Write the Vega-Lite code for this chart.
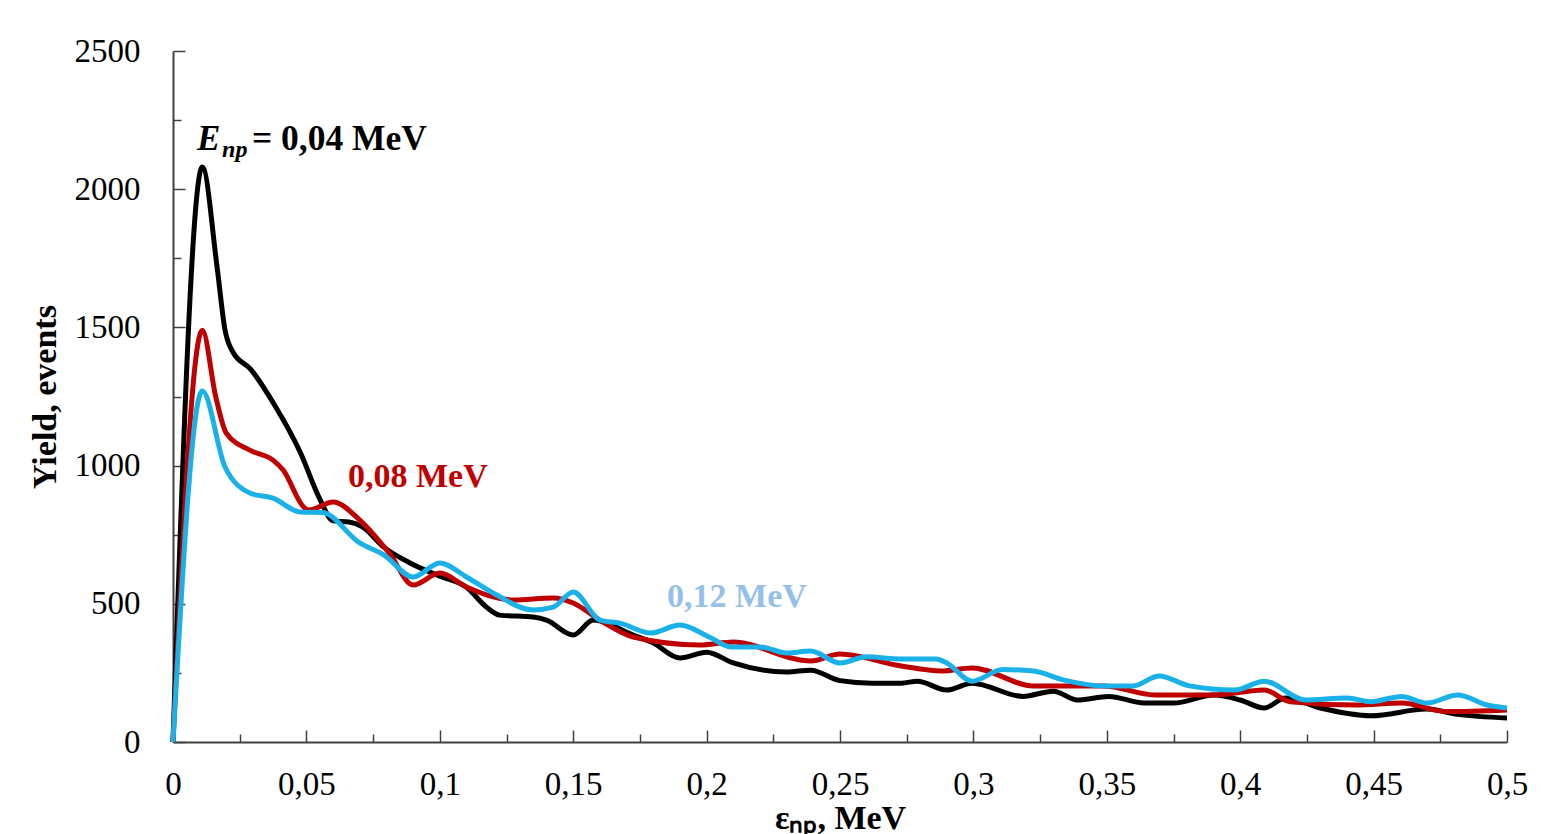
{
  "$schema": "https://vega.github.io/schema/vega-lite/v6.json",
  "width": 1334,
  "height": 691,
  "autosize": {"type": "none"},
  "padding": {"left": 173, "top": 51, "right": 34, "bottom": 92},
  "background": "white",
  "config": {
    "view": {"stroke": null},
    "font": "Liberation Serif",
    "axis": {
      "grid": false,
      "domainColor": "#404040",
      "domainWidth": 2,
      "tickColor": "#404040",
      "tickWidth": 1.5,
      "labelFont": "Liberation Serif",
      "labelFontSize": 33,
      "labelColor": "#000000",
      "titleFont": "Liberation Serif",
      "titleFontSize": 34,
      "titleFontWeight": "bold",
      "titleColor": "#000000"
    }
  },
  "datasets": {
    "curves": [
      {"e": 0, "yield": 0, "s": "0,04"},
      {"e": 0.011, "yield": 2080, "s": "0,04"},
      {"e": 0.0165, "yield": 1720, "s": "0,04"},
      {"e": 0.0195, "yield": 1490, "s": "0,04"},
      {"e": 0.0225, "yield": 1410, "s": "0,04"},
      {"e": 0.029, "yield": 1350, "s": "0,04"},
      {"e": 0.038, "yield": 1220, "s": "0,04"},
      {"e": 0.0476, "yield": 1050, "s": "0,04"},
      {"e": 0.055, "yield": 880, "s": "0,04"},
      {"e": 0.06, "yield": 800, "s": "0,04"},
      {"e": 0.066, "yield": 796, "s": "0,04"},
      {"e": 0.071, "yield": 778, "s": "0,04"},
      {"e": 0.079, "yield": 705, "s": "0,04"},
      {"e": 0.089, "yield": 647, "s": "0,04"},
      {"e": 0.1, "yield": 600, "s": "0,04"},
      {"e": 0.11, "yield": 560, "s": "0,04"},
      {"e": 0.1175, "yield": 488, "s": "0,04"},
      {"e": 0.1225, "yield": 459, "s": "0,04"},
      {"e": 0.135, "yield": 452, "s": "0,04"},
      {"e": 0.14, "yield": 441, "s": "0,04"},
      {"e": 0.15, "yield": 387, "s": "0,04"},
      {"e": 0.1575, "yield": 441, "s": "0,04"},
      {"e": 0.1725, "yield": 387, "s": "0,04"},
      {"e": 0.18, "yield": 358, "s": "0,04"},
      {"e": 0.19, "yield": 304, "s": "0,04"},
      {"e": 0.2, "yield": 325, "s": "0,04"},
      {"e": 0.21, "yield": 286, "s": "0,04"},
      {"e": 0.23, "yield": 253, "s": "0,04"},
      {"e": 0.239, "yield": 260, "s": "0,04"},
      {"e": 0.25, "yield": 222, "s": "0,04"},
      {"e": 0.262, "yield": 213, "s": "0,04"},
      {"e": 0.273, "yield": 213, "s": "0,04"},
      {"e": 0.279, "yield": 220, "s": "0,04"},
      {"e": 0.29, "yield": 188, "s": "0,04"},
      {"e": 0.2995, "yield": 213, "s": "0,04"},
      {"e": 0.3185, "yield": 165, "s": "0,04"},
      {"e": 0.33, "yield": 184, "s": "0,04"},
      {"e": 0.339, "yield": 152, "s": "0,04"},
      {"e": 0.3507, "yield": 165, "s": "0,04"},
      {"e": 0.364, "yield": 141, "s": "0,04"},
      {"e": 0.375, "yield": 141, "s": "0,04"},
      {"e": 0.39, "yield": 170, "s": "0,04"},
      {"e": 0.4, "yield": 152, "s": "0,04"},
      {"e": 0.409, "yield": 123, "s": "0,04"},
      {"e": 0.417, "yield": 159, "s": "0,04"},
      {"e": 0.43, "yield": 123, "s": "0,04"},
      {"e": 0.449, "yield": 95, "s": "0,04"},
      {"e": 0.47, "yield": 119, "s": "0,04"},
      {"e": 0.4815, "yield": 100, "s": "0,04"},
      {"e": 0.5, "yield": 87, "s": "0,04"},

      {"e": 0, "yield": 0, "s": "0,08"},
      {"e": 0.011, "yield": 1490, "s": "0,08"},
      {"e": 0.016, "yield": 1250, "s": "0,08"},
      {"e": 0.02, "yield": 1117, "s": "0,08"},
      {"e": 0.029, "yield": 1055, "s": "0,08"},
      {"e": 0.0375, "yield": 1020, "s": "0,08"},
      {"e": 0.0413, "yield": 984, "s": "0,08"},
      {"e": 0.049, "yield": 850, "s": "0,08"},
      {"e": 0.051, "yield": 839, "s": "0,08"},
      {"e": 0.06, "yield": 868, "s": "0,08"},
      {"e": 0.07, "yield": 803, "s": "0,08"},
      {"e": 0.081, "yield": 684, "s": "0,08"},
      {"e": 0.09, "yield": 568, "s": "0,08"},
      {"e": 0.1, "yield": 611, "s": "0,08"},
      {"e": 0.11, "yield": 561, "s": "0,08"},
      {"e": 0.1275, "yield": 514, "s": "0,08"},
      {"e": 0.1425, "yield": 521, "s": "0,08"},
      {"e": 0.15, "yield": 503, "s": "0,08"},
      {"e": 0.16, "yield": 441, "s": "0,08"},
      {"e": 0.1725, "yield": 380, "s": "0,08"},
      {"e": 0.1975, "yield": 351, "s": "0,08"},
      {"e": 0.21, "yield": 362, "s": "0,08"},
      {"e": 0.235, "yield": 297, "s": "0,08"},
      {"e": 0.239, "yield": 293, "s": "0,08"},
      {"e": 0.25, "yield": 318, "s": "0,08"},
      {"e": 0.273, "yield": 275, "s": "0,08"},
      {"e": 0.288, "yield": 257, "s": "0,08"},
      {"e": 0.2995, "yield": 268, "s": "0,08"},
      {"e": 0.3225, "yield": 203, "s": "0,08"},
      {"e": 0.3487, "yield": 203, "s": "0,08"},
      {"e": 0.368, "yield": 170, "s": "0,08"},
      {"e": 0.39, "yield": 170, "s": "0,08"},
      {"e": 0.409, "yield": 188, "s": "0,08"},
      {"e": 0.4187, "yield": 146, "s": "0,08"},
      {"e": 0.4435, "yield": 134, "s": "0,08"},
      {"e": 0.4605, "yield": 141, "s": "0,08"},
      {"e": 0.4775, "yield": 110, "s": "0,08"},
      {"e": 0.5, "yield": 116, "s": "0,08"},

      {"e": 0, "yield": 0, "s": "0,12"},
      {"e": 0.011, "yield": 1270, "s": "0,12"},
      {"e": 0.0195, "yield": 995, "s": "0,12"},
      {"e": 0.029, "yield": 900, "s": "0,12"},
      {"e": 0.0375, "yield": 882, "s": "0,12"},
      {"e": 0.0476, "yield": 832, "s": "0,12"},
      {"e": 0.056, "yield": 830, "s": "0,12"},
      {"e": 0.07, "yield": 720, "s": "0,12"},
      {"e": 0.079, "yield": 677, "s": "0,12"},
      {"e": 0.09, "yield": 597, "s": "0,12"},
      {"e": 0.1, "yield": 648, "s": "0,12"},
      {"e": 0.11, "yield": 597, "s": "0,12"},
      {"e": 0.12, "yield": 539, "s": "0,12"},
      {"e": 0.135, "yield": 478, "s": "0,12"},
      {"e": 0.1425, "yield": 488, "s": "0,12"},
      {"e": 0.15, "yield": 543, "s": "0,12"},
      {"e": 0.16, "yield": 441, "s": "0,12"},
      {"e": 0.1675, "yield": 430, "s": "0,12"},
      {"e": 0.179, "yield": 394, "s": "0,12"},
      {"e": 0.19, "yield": 423, "s": "0,12"},
      {"e": 0.201, "yield": 380, "s": "0,12"},
      {"e": 0.209, "yield": 344, "s": "0,12"},
      {"e": 0.22, "yield": 344, "s": "0,12"},
      {"e": 0.23, "yield": 322, "s": "0,12"},
      {"e": 0.239, "yield": 329, "s": "0,12"},
      {"e": 0.25, "yield": 286, "s": "0,12"},
      {"e": 0.26, "yield": 308, "s": "0,12"},
      {"e": 0.273, "yield": 300, "s": "0,12"},
      {"e": 0.286, "yield": 300, "s": "0,12"},
      {"e": 0.29, "yield": 286, "s": "0,12"},
      {"e": 0.2995, "yield": 220, "s": "0,12"},
      {"e": 0.311, "yield": 262, "s": "0,12"},
      {"e": 0.3225, "yield": 257, "s": "0,12"},
      {"e": 0.3336, "yield": 225, "s": "0,12"},
      {"e": 0.3487, "yield": 203, "s": "0,12"},
      {"e": 0.36, "yield": 203, "s": "0,12"},
      {"e": 0.3695, "yield": 239, "s": "0,12"},
      {"e": 0.381, "yield": 203, "s": "0,12"},
      {"e": 0.398, "yield": 188, "s": "0,12"},
      {"e": 0.409, "yield": 220, "s": "0,12"},
      {"e": 0.4245, "yield": 152, "s": "0,12"},
      {"e": 0.44, "yield": 159, "s": "0,12"},
      {"e": 0.449, "yield": 146, "s": "0,12"},
      {"e": 0.4605, "yield": 165, "s": "0,12"},
      {"e": 0.47, "yield": 141, "s": "0,12"},
      {"e": 0.4815, "yield": 170, "s": "0,12"},
      {"e": 0.4925, "yield": 134, "s": "0,12"},
      {"e": 0.5, "yield": 123, "s": "0,12"}
    ],
    "labels": [
      {"e": 0.009, "yield": 2142, "t": "E", "kind": "E"},
      {"e": 0.0184, "yield": 2116, "t": "np", "kind": "sub"},
      {"e": 0.0296, "yield": 2142, "t": "= 0,04 MeV", "kind": "black"},
      {"e": 0.0656, "yield": 922, "t": "0,08 MeV", "kind": "red"},
      {"e": 0.1852, "yield": 488, "t": "0,12 MeV", "kind": "blue"}
    ]
  },
  "encoding": {
    "x": {
      "field": "e",
      "type": "quantitative",
      "scale": {"domain": [0, 0.5], "nice": false, "zero": false},
      "axis": {
        "values": [0, 0.025, 0.05, 0.075, 0.1, 0.125, 0.15, 0.175, 0.2, 0.225, 0.25, 0.275, 0.3, 0.325, 0.35, 0.375, 0.4, 0.425, 0.45, 0.475, 0.5],
        "labelExpr": "round(datum.value*40)%2==0 ? replace(format(datum.value,'~g'),'.',',') : ''",
        "tickSize": {"condition": {"test": "round(datum.value*40)%2==0", "value": -12}, "value": -8},
        "labelPadding": 38,
        "labelBaseline": "top",
        "labelFlush": false,
        "labelOverlap": false,
        "title": "εₙₚ, MeV",
        "titleBaseline": "alphabetic",
        "titleY": 86,
        "titleX": 667
      }
    },
    "y": {
      "field": "yield",
      "type": "quantitative",
      "scale": {"domain": [0, 2500], "nice": false},
      "axis": {
        "values": [0, 250, 500, 750, 1000, 1250, 1500, 1750, 2000, 2250, 2500],
        "labelExpr": "datum.value % 500 == 0 ? format(datum.value,'d') : ''",
        "tickSize": {"condition": {"test": "datum.value % 500 == 0", "value": -12}, "value": -8},
        "labelPadding": 45,
        "labelBaseline": "middle",
        "labelFlush": false,
        "labelOverlap": false,
        "title": "Yield, events",
        "titleAngle": 270,
        "titleBaseline": "alphabetic",
        "titleAlign": "center",
        "titleX": -118,
        "titleY": 345.5
      }
    }
  },
  "layer": [
    {
      "data": {"name": "curves"},
      "mark": {"type": "line", "strokeWidth": 5, "interpolate": "monotone"},
      "encoding": {
        "color": {
          "field": "s",
          "type": "nominal",
          "scale": {"domain": ["0,04", "0,08", "0,12"], "range": ["#000000", "#C00000", "#1AB0E8"]},
          "legend": null
        }
      }
    },
    {
      "data": {"name": "labels"},
      "transform": [{"filter": "datum.kind == 'E'"}],
      "mark": {"type": "text", "align": "left", "baseline": "alphabetic", "font": "Liberation Serif", "fontSize": 35, "fontWeight": "bold", "fontStyle": "italic", "color": "#000000"},
      "encoding": {"text": {"field": "t"}}
    },
    {
      "data": {"name": "labels"},
      "transform": [{"filter": "datum.kind == 'sub'"}],
      "mark": {"type": "text", "align": "left", "baseline": "alphabetic", "font": "Liberation Serif", "fontSize": 24, "fontWeight": "bold", "fontStyle": "italic", "color": "#000000"},
      "encoding": {"text": {"field": "t"}}
    },
    {
      "data": {"name": "labels"},
      "transform": [{"filter": "datum.kind == 'black'"}],
      "mark": {"type": "text", "align": "left", "baseline": "alphabetic", "font": "Liberation Serif", "fontSize": 35.5, "fontWeight": "bold", "color": "#000000"},
      "encoding": {"text": {"field": "t"}}
    },
    {
      "data": {"name": "labels"},
      "transform": [{"filter": "datum.kind == 'red'"}],
      "mark": {"type": "text", "align": "left", "baseline": "alphabetic", "font": "Liberation Serif", "fontSize": 34, "fontWeight": "bold", "color": "#C00000"},
      "encoding": {"text": {"field": "t"}}
    },
    {
      "data": {"name": "labels"},
      "transform": [{"filter": "datum.kind == 'blue'"}],
      "mark": {"type": "text", "align": "left", "baseline": "alphabetic", "font": "Liberation Serif", "fontSize": 34, "fontWeight": "bold", "color": "#95C0EA"},
      "encoding": {"text": {"field": "t"}}
    }
  ]
}
